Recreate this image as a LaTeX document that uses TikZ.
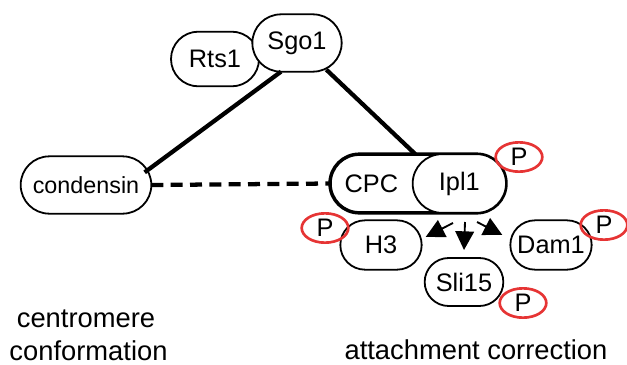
\documentclass[tikz,border=0pt]{standalone}
\usepackage{fontspec}
\setmainfont{Liberation Sans}
\usetikzlibrary{arrows.meta,shapes.geometric,calc}
\definecolor{phred}{RGB}{230,52,52}

\begin{document}
\begin{tikzpicture}
[x=0.75pt,y=-0.75pt
,pill/.style={rectangle,draw,fill=white,line width=1.35pt,inner sep=0pt,outer sep=0pt
  ,minimum height=#1,rounded corners=0.5*#1,font=\fontsize{19}{22}\selectfont}
,pill/.default=38pt
,cpx/.style={pill=44pt,line width=2.6pt}
,ph/.style={ellipse,draw=phred,line width=2pt,inner sep=0pt
  ,minimum width=35pt,minimum height=22pt,font=\fontsize{19}{22}\selectfont}
,link/.style={line width=3.2pt}
,arr/.style={line width=1.4pt,-{Triangle[length=14pt,width=14pt]}}
,lbl/.style={anchor=base,font=\fontsize{20.5}{24}\selectfont}
]
\useasboundingbox (0,0) rectangle (627,364);
% Sgo1 with Rts1 tucked behind it
\node[pill=41pt,minimum width=66pt] (Rts1) at (215,59) {Rts1};
\node[pill=43pt,minimum width=67pt] (Sgo1) at (297,43) {Sgo1};
\node[pill=43pt,minimum width=98pt,font=\fontsize{17.5}{20}\selectfont] (cond) at (86,185) {condensin};
% CPC complex, Ipl1 at its right end
\node[cpx,minimum width=132pt] (CPC) at (418,183.5) {};
\node[pill=44pt,minimum width=70pt,anchor=east] (Ipl1) at (CPC.east) {Ipl1};
\node[font=\fontsize{19}{22}\selectfont] (cpclbl) at ($(CPC.west)!0.5!(Ipl1.west)$) {CPC};
% substrates
\node[pill=37pt,minimum width=61pt] (H3) at (381,245) {H3};
\node[pill=37pt,minimum width=61pt] (Dam1) at (551,245) {Dam1};
\node[pill=36pt,minimum width=59pt] (Sli15) at (464,282) {Sli15};
\draw[link] ([xshift=-12pt]Sgo1.south) -- ([shift={(-5pt,-12pt)}]cond.north east);
\draw[link] ([shift={(22pt,1.5pt)}]Sgo1.south) -- ([xshift=-2pt]CPC.north);
\draw[link,dash pattern=on 9pt off 5.5pt] (cond.east) -- (CPC.west);
% Ipl1 kinase activity
\coordinate (k1) at (453,223);
\coordinate (k2) at (465,222);
\coordinate (k3) at (477,222);
\draw[arr] (k1) -- ([shift={(3pt,6pt)}]H3.east);
\draw[arr] (k2) -- ([yshift=6pt]Sli15.north);
\draw[arr] (k3) -- ([shift={(-6pt,7.5pt)}]Dam1.west);
% phosphorylation marks
\node[ph] (pIpl1) at (519,157) {P};
\node[ph] (pH3) at (325,228) {P};
\node[ph] (pDam1) at (604,225) {P};
\node[ph] (pSli15) at (523,303) {P};
\node[lbl] (cm) at (86,327) {centromere};
\node[lbl] (cf) at (88.5,360) {conformation};
\node[lbl] (ac) at (476,359) {attachment correction};
\end{tikzpicture}
\end{document}
